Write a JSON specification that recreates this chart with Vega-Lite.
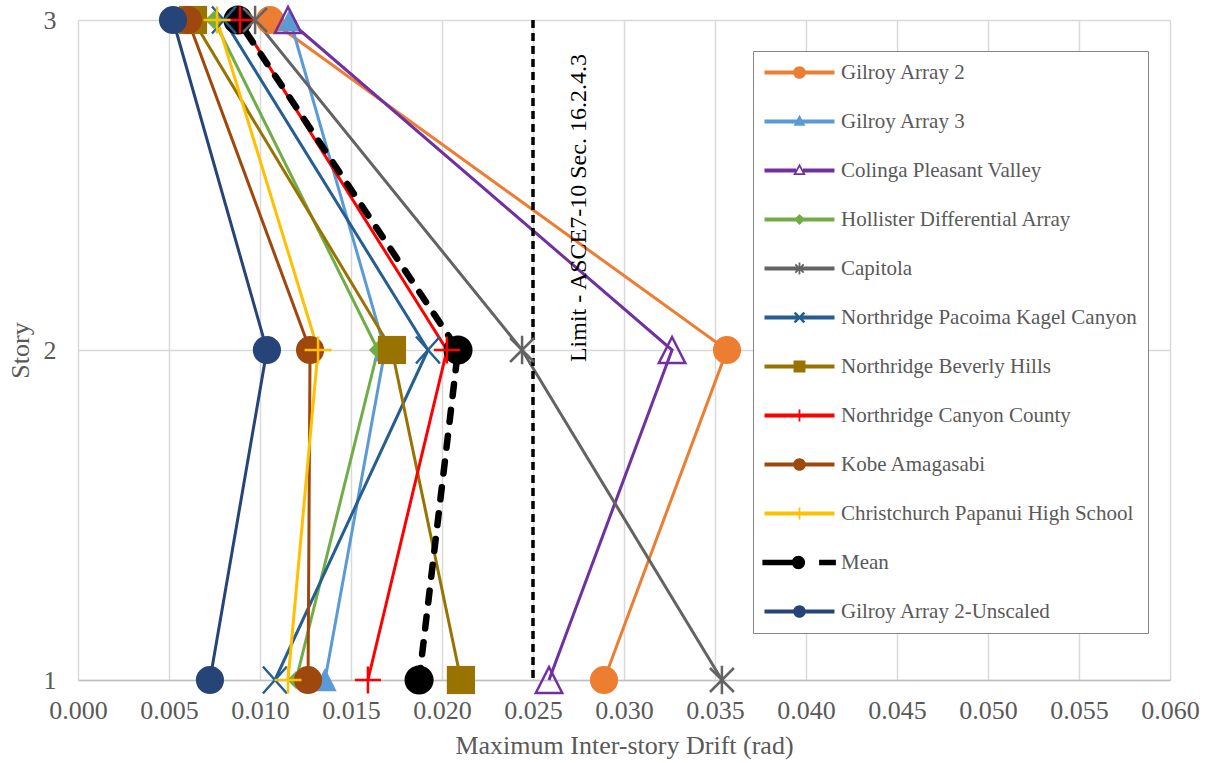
{
  "$schema": "https://vega.github.io/schema/vega-lite/v6.json",
  "width": 1092,
  "height": 660,
  "autosize": "none",
  "padding": {"left": 78, "top": 20, "right": 42, "bottom": 83},
  "background": "white",
  "config": {"view": {"stroke": null}},
  "data": {"values": [
    {"series": "Gilroy Array 2", "story": 1, "drift": 0.0289},
    {"series": "Gilroy Array 2", "story": 2, "drift": 0.03566},
    {"series": "Gilroy Array 2", "story": 3, "drift": 0.01055},
    {"series": "Gilroy Array 3", "story": 1, "drift": 0.01357},
    {"series": "Gilroy Array 3", "story": 2, "drift": 0.01687},
    {"series": "Gilroy Array 3", "story": 3, "drift": 0.01165},
    {"series": "Colinga Pleasant Valley", "story": 1, "drift": 0.02588},
    {"series": "Colinga Pleasant Valley", "story": 2, "drift": 0.03264},
    {"series": "Colinga Pleasant Valley", "story": 3, "drift": 0.01154},
    {"series": "Hollister Differential Array", "story": 1, "drift": 0.01198},
    {"series": "Hollister Differential Array", "story": 2, "drift": 0.01648},
    {"series": "Hollister Differential Array", "story": 3, "drift": 0.00747},
    {"series": "Capitola", "story": 1, "drift": 0.03538},
    {"series": "Capitola", "story": 2, "drift": 0.0244},
    {"series": "Capitola", "story": 3, "drift": 0.00973},
    {"series": "Northridge Pacoima Kagel Canyon", "story": 1, "drift": 0.01082},
    {"series": "Northridge Pacoima Kagel Canyon", "story": 2, "drift": 0.01923},
    {"series": "Northridge Pacoima Kagel Canyon", "story": 3, "drift": 0.00802},
    {"series": "Northridge Beverly Hills", "story": 1, "drift": 0.02104},
    {"series": "Northridge Beverly Hills", "story": 2, "drift": 0.01725},
    {"series": "Northridge Beverly Hills", "story": 3, "drift": 0.00632},
    {"series": "Northridge Canyon County", "story": 1, "drift": 0.01593},
    {"series": "Northridge Canyon County", "story": 2, "drift": 0.02027},
    {"series": "Northridge Canyon County", "story": 3, "drift": 0.0089},
    {"series": "Kobe Amagasabi", "story": 1, "drift": 0.01264},
    {"series": "Kobe Amagasabi", "story": 2, "drift": 0.01275},
    {"series": "Kobe Amagasabi", "story": 3, "drift": 0.00604},
    {"series": "Christchurch Papanui High School", "story": 1, "drift": 0.01154},
    {"series": "Christchurch Papanui High School", "story": 2, "drift": 0.01319},
    {"series": "Christchurch Papanui High School", "story": 3, "drift": 0.00764},
    {"series": "Mean", "story": 1, "drift": 0.01874},
    {"series": "Mean", "story": 2, "drift": 0.02088},
    {"series": "Mean", "story": 3, "drift": 0.00879},
    {"series": "Gilroy Array 2-Unscaled", "story": 1, "drift": 0.00725},
    {"series": "Gilroy Array 2-Unscaled", "story": 2, "drift": 0.01038},
    {"series": "Gilroy Array 2-Unscaled", "story": 3, "drift": 0.00522}
  ]},
  "encoding": {
    "x": {"field": "drift", "type": "quantitative",
      "scale": {"domain": [0, 0.06], "nice": false, "zero": false},
      "axis": {"title": "Maximum Inter-story Drift (rad)", "format": ".3f",
        "values": [0, 0.005, 0.01, 0.015, 0.02, 0.025, 0.03, 0.035, 0.04, 0.045, 0.05, 0.055, 0.06],
        "grid": true, "gridColor": "#d9d9d9", "gridWidth": 1.5,
        "domainColor": "#bfbfbf", "domainWidth": 1.5, "ticks": false,
        "labelFont": "Liberation Serif", "labelFontSize": 26, "labelColor": "#595959", "labelPadding": 17,
        "labelFlush": false, "labelOverlap": false,
        "titleFont": "Liberation Serif", "titleFontSize": 26, "titleFontWeight": "normal", "titleColor": "#595959", "titlePadding": 9}},
    "y": {"field": "story", "type": "quantitative",
      "scale": {"domain": [1, 3], "nice": false, "zero": false},
      "axis": {"title": "Story", "tickCount": 2, "format": "d",
        "grid": true, "gridColor": "#d9d9d9", "gridWidth": 1.5, "domain": false, "ticks": false,
        "labelFont": "Liberation Serif", "labelFontSize": 26, "labelColor": "#595959", "labelPadding": 22,
        "labelFlush": false, "labelOverlap": false,
        "titleFont": "Liberation Serif", "titleFontSize": 26, "titleFontWeight": "normal", "titleColor": "#595959", "titlePadding": 10}}
  },
  "layer": [
    {
      "transform": [{"filter": "datum.series != 'Mean'"}],
      "mark": {"type": "line", "strokeWidth": 3},
      "encoding": {
        "color": {"field": "series", "type": "nominal", "legend": null,
          "scale": {"domain": ["Gilroy Array 2", "Gilroy Array 3", "Colinga Pleasant Valley", "Hollister Differential Array", "Capitola", "Northridge Pacoima Kagel Canyon", "Northridge Beverly Hills", "Northridge Canyon County", "Kobe Amagasabi", "Christchurch Papanui High School", "Mean", "Gilroy Array 2-Unscaled"],
            "range": ["#ED7D31", "#5B9BD5", "#7030A0", "#70AD47", "#636363", "#255E91", "#997300", "#FF0000", "#9E480E", "#FFC000", "#000000", "#264478"]}},
        "order": {"field": "story", "type": "quantitative"}
      }
    },
    {
      "transform": [{"filter": "datum.series == 'Mean'"}],
      "mark": {"type": "line", "strokeWidth": 6.5, "strokeDash": [12, 14], "strokeCap": "round", "color": "#000000"},
      "encoding": {"order": {"field": "story", "type": "quantitative"}}
    },
    {
      "data": {"values": [{"drift": 0.025}]},
      "mark": {"type": "rule", "strokeDash": [8, 5], "strokeWidth": 3.5, "color": "#000000"},
      "encoding": {"y": null}
    },
    {
      "data": {"values": [{"drift": 0.0275, "story": 2.43, "label": "Limit - ASCE7-10 Sec. 16.2.4.3"}]},
      "mark": {"type": "text", "angle": 270, "font": "Liberation Serif", "fontSize": 24, "color": "#000000", "align": "center", "baseline": "middle"},
      "encoding": {"text": {"field": "label"}}
    },
    {
      "transform": [{"filter": {"field": "series", "oneOf": ["Gilroy Array 2", "Gilroy Array 3", "Hollister Differential Array", "Northridge Beverly Hills", "Kobe Amagasabi", "Mean", "Gilroy Array 2-Unscaled"]}}],
      "mark": {"type": "point", "filled": true, "opacity": 1, "size": 900, "strokeWidth": 0},
      "encoding": {
        "color": {"field": "series", "type": "nominal", "legend": null,
          "scale": {"domain": ["Gilroy Array 2", "Gilroy Array 3", "Colinga Pleasant Valley", "Hollister Differential Array", "Capitola", "Northridge Pacoima Kagel Canyon", "Northridge Beverly Hills", "Northridge Canyon County", "Kobe Amagasabi", "Christchurch Papanui High School", "Mean", "Gilroy Array 2-Unscaled"],
            "range": ["#ED7D31", "#5B9BD5", "#7030A0", "#70AD47", "#636363", "#255E91", "#997300", "#FF0000", "#9E480E", "#FFC000", "#000000", "#264478"]}},
        "shape": {"field": "series", "type": "nominal", "legend": null,
          "scale": {"domain": ["Gilroy Array 2", "Gilroy Array 3", "Colinga Pleasant Valley", "Hollister Differential Array", "Capitola", "Northridge Pacoima Kagel Canyon", "Northridge Beverly Hills", "Northridge Canyon County", "Kobe Amagasabi", "Christchurch Papanui High School", "Mean", "Gilroy Array 2-Unscaled"],
            "range": [
              "M-0.94,0A0.94,0.94,0,1,1,0.94,0A0.94,0.94,0,1,1,-0.94,0Z",
              "M0,-0.8L0.78,0.75L-0.78,0.75Z",
              "M0,-0.87L0.88,0.87L-0.88,0.87Z",
              "M0,-0.6L0.6,0L0,0.6L-0.6,0Z",
              "M-0.8,-0.8L0.8,0.8M-0.8,0.8L0.8,-0.8M0,-0.95L0,0.95",
              "M-0.8,-0.9L0.8,0.9M-0.8,0.9L0.8,-0.9",
              "M-0.94,-0.94H0.94V0.94H-0.94Z",
              "M-0.87,0H0.87M0,-0.9V0.9",
              "M-0.94,0A0.94,0.94,0,1,1,0.94,0A0.94,0.94,0,1,1,-0.94,0Z",
              "M-0.9,0H0.9M0,-0.9V0.9",
              "M-0.97,0A0.97,0.97,0,1,1,0.97,0A0.97,0.97,0,1,1,-0.97,0Z",
              "M-0.94,0A0.94,0.94,0,1,1,0.94,0A0.94,0.94,0,1,1,-0.94,0Z"
            ]}}
      }
    },
    {
      "transform": [{"filter": {"field": "series", "oneOf": ["Colinga Pleasant Valley", "Capitola", "Northridge Pacoima Kagel Canyon", "Northridge Canyon County", "Christchurch Papanui High School"]}}],
      "mark": {"type": "point", "filled": false, "opacity": 1, "size": 900, "strokeWidth": 2.5},
      "encoding": {
        "color": {"field": "series", "type": "nominal", "legend": null,
          "scale": {"domain": ["Gilroy Array 2", "Gilroy Array 3", "Colinga Pleasant Valley", "Hollister Differential Array", "Capitola", "Northridge Pacoima Kagel Canyon", "Northridge Beverly Hills", "Northridge Canyon County", "Kobe Amagasabi", "Christchurch Papanui High School", "Mean", "Gilroy Array 2-Unscaled"],
            "range": ["#ED7D31", "#5B9BD5", "#7030A0", "#70AD47", "#636363", "#255E91", "#997300", "#FF0000", "#9E480E", "#FFC000", "#000000", "#264478"]}},
        "shape": {"field": "series", "type": "nominal", "legend": null,
          "scale": {"domain": ["Gilroy Array 2", "Gilroy Array 3", "Colinga Pleasant Valley", "Hollister Differential Array", "Capitola", "Northridge Pacoima Kagel Canyon", "Northridge Beverly Hills", "Northridge Canyon County", "Kobe Amagasabi", "Christchurch Papanui High School", "Mean", "Gilroy Array 2-Unscaled"],
            "range": [
              "M-0.94,0A0.94,0.94,0,1,1,0.94,0A0.94,0.94,0,1,1,-0.94,0Z",
              "M0,-0.8L0.78,0.75L-0.78,0.75Z",
              "M0,-0.87L0.88,0.87L-0.88,0.87Z",
              "M0,-0.6L0.6,0L0,0.6L-0.6,0Z",
              "M-0.8,-0.8L0.8,0.8M-0.8,0.8L0.8,-0.8M0,-0.95L0,0.95",
              "M-0.8,-0.9L0.8,0.9M-0.8,0.9L0.8,-0.9",
              "M-0.94,-0.94H0.94V0.94H-0.94Z",
              "M-0.87,0H0.87M0,-0.9V0.9",
              "M-0.94,0A0.94,0.94,0,1,1,0.94,0A0.94,0.94,0,1,1,-0.94,0Z",
              "M-0.9,0H0.9M0,-0.9V0.9",
              "M-0.97,0A0.97,0.97,0,1,1,0.97,0A0.97,0.97,0,1,1,-0.97,0Z",
              "M-0.94,0A0.94,0.94,0,1,1,0.94,0A0.94,0.94,0,1,1,-0.94,0Z"
            ]}}
      }
    },
    {
      "transform": [{"filter": "datum.story == 1"}],
      "mark": {"type": "point", "filled": true, "opacity": 0},
      "encoding": {
        "color": {"field": "series", "type": "nominal",
          "scale": {"domain": ["Gilroy Array 2", "Gilroy Array 3", "Colinga Pleasant Valley", "Hollister Differential Array", "Capitola", "Northridge Pacoima Kagel Canyon", "Northridge Beverly Hills", "Northridge Canyon County", "Kobe Amagasabi", "Christchurch Papanui High School", "Mean", "Gilroy Array 2-Unscaled"],
            "range": ["#ED7D31", "#5B9BD5", "#7030A0", "#70AD47", "#636363", "#255E91", "#997300", "#FF0000", "#9E480E", "#FFC000", "#000000", "#264478"]},
          "legend": {"title": null, "orient": "none", "legendX": 675, "legendY": 31, "symbolSize": 400, "symbolStrokeWidth": 0, "symbolOpacity": 1,
            "labelFont": "Liberation Serif", "labelFontSize": 21, "labelColor": "#595959", "labelOffset": 56, "labelLimit": 500,
            "rowPadding": 27, "padding": 11, "strokeColor": "#868686", "fillColor": "#ffffff"}},
        "shape": {"field": "series", "type": "nominal",
          "scale": {"domain": ["Gilroy Array 2", "Gilroy Array 3", "Colinga Pleasant Valley", "Hollister Differential Array", "Capitola", "Northridge Pacoima Kagel Canyon", "Northridge Beverly Hills", "Northridge Canyon County", "Kobe Amagasabi", "Christchurch Papanui High School", "Mean", "Gilroy Array 2-Unscaled"],
            "range": [
              "M-1,-0.2H6V0.2H-1Z M1.87,0A0.63,0.63,0,1,1,3.13,0A0.63,0.63,0,1,1,1.87,0Z",
              "M-1,-0.2H6V0.2H-1Z M2.5,-0.665L3.095,0.42L1.905,0.42Z",
              "M-1,-0.2H2.15V0.2H-1Z M2.85,-0.2H6V0.2H2.85Z M2.5,-0.7L3.13,0.455L1.87,0.455Z M2.5,-0.315L2.1675,0.2625L2.8325,0.2625Z",
              "M-1,-0.2H6V0.2H-1Z M2.5,-0.56L3.06,0L2.5,0.56L1.94,0Z",
              "M-1,-0.2H6V0.2H-1Z M2.4125,-0.595H2.5875V0.595H2.4125Z M2.143,-0.483L2.983,0.357L2.857,0.483L2.017,-0.357Z M2.143,0.483L2.017,0.357L2.857,-0.483L2.983,-0.357Z",
              "M-1,-0.2H6V0.2H-1Z M2.0975,-0.5775L3.0775,0.4025L2.9025,0.5775L1.9225,-0.4025Z M2.0975,0.5775L1.9225,0.4025L2.9025,-0.5775L3.0775,-0.4025Z",
              "M-1,-0.2H6V0.2H-1Z M1.905,-0.595H3.095V0.595H1.905Z",
              "M-1,-0.2H6V0.2H-1Z M2.4125,-0.595H2.5875V0.595H2.4125Z",
              "M-1,-0.2H6V0.2H-1Z M1.87,0A0.63,0.63,0,1,1,3.13,0A0.63,0.63,0,1,1,1.87,0Z",
              "M-1,-0.2H6V0.2H-1Z M2.4125,-0.595H2.5875V0.595H2.4125Z",
              "M-1.21,-0.28H1.975V0.28H-1.21Z M1.73,0A0.665,0.665,0,1,1,3.06,0A0.665,0.665,0,1,1,1.73,0Z M4.46,-0.28H6.14V0.28H4.46Z",
              "M-1,-0.2H6V0.2H-1Z M1.87,0A0.63,0.63,0,1,1,3.13,0A0.63,0.63,0,1,1,1.87,0Z"
            ]},
          "legend": {"title": null, "orient": "none", "legendX": 675, "legendY": 31, "symbolSize": 400, "symbolStrokeWidth": 0, "symbolOpacity": 1,
            "labelFont": "Liberation Serif", "labelFontSize": 21, "labelColor": "#595959", "labelOffset": 56, "labelLimit": 500,
            "rowPadding": 27, "padding": 11, "strokeColor": "#868686", "fillColor": "#ffffff"}}
      }
    }
  ],
  "resolve": {"scale": {"color": "independent", "shape": "independent"}}
}
